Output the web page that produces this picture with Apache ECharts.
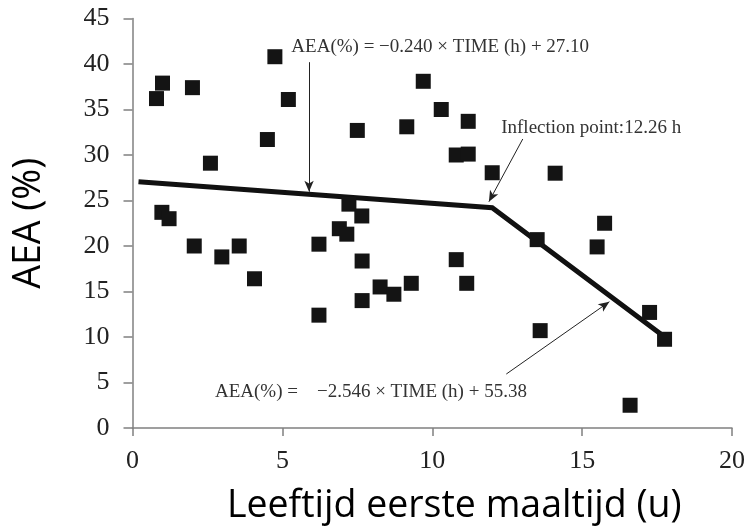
<!DOCTYPE html>
<html><head><meta charset="utf-8">
<script src="https://cdn.jsdelivr.net/npm/echarts@6/dist/echarts.min.js"></script>
<style>html,body{margin:0;padding:0;background:#fff}#c{width:744px;height:531px}</style>
</head><body><div id="c"></div>
<script>
// data
const xs = [0.8,1.0,2.0,4.75,5.2,4.5,2.6,7.5,9.15,9.7,10.3,11.2,10.8,11.2,12.0,14.1,15.75,15.5,13.5,10.8,11.15,9.3,13.6,17.25,17.75,16.6,0.98,1.22,2.06,2.98,3.56,4.07,6.22,6.22,6.9,7.15,7.22,7.65,7.66,7.66,8.26,8.72];
const ys = [36.2,37.9,37.4,40.8,36.1,31.7,29.1,32.7,33.1,38.1,35.0,33.7,30.0,30.1,28.05,28.0,22.5,19.9,20.7,18.5,15.9,15.9,10.7,12.7,9.75,2.5,23.7,23.0,20.0,18.8,20.0,16.4,20.2,12.4,21.9,21.3,24.6,23.3,18.35,14.0,15.5,14.7];
const fitX = [0.2,12.0,17.8];
const fitY = [27.05,24.2,9.9];
const xTicks = [0,5,10,15,20];
const yTicks = [0,5,10,15,20,25,30,35,40,45];
const annTexts = ['AEA(%) = \u22120.240 \u00d7 TIME (h) + 27.10','Inflection point:12.26 h','AEA(%) =    \u22122.546 \u00d7 TIME (h) + 55.38'];
const annPos = [[5.3,41.9],[12.3,33.0],[2.75,3.9]];
const arrows = [[[5.89,40.2],[5.89,25.97]],[[13.02,31.76],[11.89,24.87]],[[12.47,5.93],[15.91,13.88]]];

const serif = '"Liberation Serif","Times New Roman",serif';
const sans = '"Open Sans","Noto Sans",sans-serif';
const chart = echarts.init(document.getElementById('c'));
const axisCol = '#808080';
chart.setOption({
  animation:false,
  grid:{left:132.5,right:12,top:18.5,bottom:103,containLabel:false,outerBoundsMode:'none'},
  xAxis:{type:'value',min:xTicks[0],max:xTicks[xTicks.length-1],interval:5,
    name:'Leeftijd eerste maaltijd (u)',nameLocation:'middle',nameGap:59,
    nameTextStyle:{fontFamily:sans,fontSize:37.5,color:'#000',padding:[0,0,0,44]},
    axisLine:{lineStyle:{color:axisCol,width:1.5}},
    axisTick:{show:true,length:8,inside:false,lineStyle:{color:axisCol,width:1.5}},
    axisLabel:{fontFamily:serif,fontSize:26,color:'#222',margin:20},
    splitLine:{show:false}},
  yAxis:{type:'value',min:yTicks[0],max:yTicks[yTicks.length-1],interval:5,
    name:'AEA (%)',nameLocation:'middle',nameGap:84,nameRotate:90,
    nameTextStyle:{fontFamily:sans,fontSize:37.5,color:'#000'},
    axisLine:{show:true,lineStyle:{color:axisCol,width:1.5}},
    axisTick:{show:true,length:9,lineStyle:{color:axisCol,width:1.5}},
    axisLabel:{fontFamily:serif,fontSize:26,color:'#222',margin:23},
    splitLine:{show:false}},
  series:[
    {type:'line',data:fitX.map((x,i)=>[x,fitY[i]]),symbol:'none',z:3,
     lineStyle:{color:'#111',width:5,cap:'butt',join:'miter'}},
    {type:'scatter',data:xs.map((x,i)=>[x,ys[i]]),symbol:'rect',symbolSize:15,z:4,
     itemStyle:{color:'#141414',opacity:1}},
    {type:'line',data:[],z:5,
     markLine:{silent:true,symbol:['none','arrow'],symbolSize:[7,11],label:{show:false},
       lineStyle:{color:'#222',width:1,type:'solid'},
       data:arrows.map(a=>[{coord:a[0]},{coord:a[1]}])}}
  ]
});
const g = annTexts.map((t,i)=>{
  const p = chart.convertToPixel({gridIndex:0},annPos[i]);
  return {type:'text',x:p[0],y:p[1],style:{text:t,font:'19px '+serif,fill:'#333',textVerticalAlign:'middle'}};
});
chart.setOption({graphic:g});
</script></body></html>
